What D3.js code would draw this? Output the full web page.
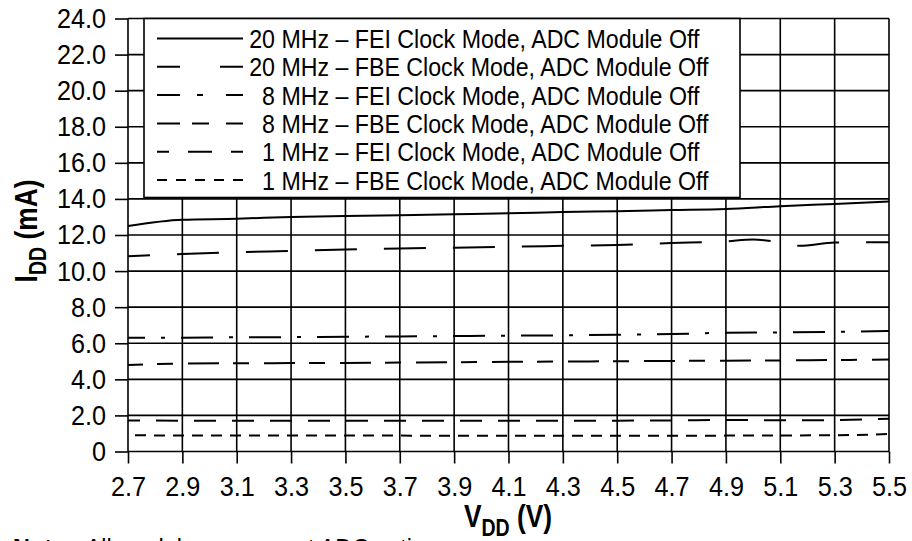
<!DOCTYPE html>
<meta charset="utf-8">
<style>
    body { margin: 0; background: #fff; }
    text { font-family: "Liberation Sans", Arial, sans-serif; fill: #000; }
</style>
<div id="my_dataviz"></div>
<script src="https://d3js.org/d3.v7.min.js"></script>
<script>

    // data
    var vdd = [2.7, 2.9, 3.1, 3.3, 3.5, 3.7, 3.9, 4.1, 4.3, 4.5, 4.7, 4.9, 5.1, 5.3, 5.5];
    var idd20Fei = [12.5, 12.85, 12.9, 13.0, 13.05, 13.1, 13.15, 13.2, 13.27, 13.32, 13.38, 13.44, 13.6, 13.72, 13.85];
    var vdd20Fbe = [2.7, 2.9, 3.1, 3.3, 3.5, 3.7, 3.9, 4.1, 4.3, 4.5, 4.7, 4.9, 5.0, 5.1, 5.17, 5.3, 5.5];
    var idd20Fbe = [10.82, 10.95, 11.05, 11.12, 11.2, 11.25, 11.3, 11.35, 11.4, 11.45, 11.55, 11.65, 11.75, 11.58, 11.4, 11.58, 11.6];
    var idd8Fei = [6.3, 6.31, 6.33, 6.34, 6.36, 6.38, 6.4, 6.42, 6.44, 6.47, 6.51, 6.58, 6.6, 6.63, 6.68];
    var idd8Fbe = [4.8, 4.87, 4.89, 4.9, 4.91, 4.93, 4.95, 4.97, 4.99, 5.0, 5.02, 5.03, 5.05, 5.07, 5.1];
    var idd1Fei = [1.72, 1.71, 1.7, 1.7, 1.7, 1.7, 1.7, 1.7, 1.7, 1.71, 1.72, 1.75, 1.73, 1.74, 1.82];
    var idd1Fbe = [0.9, 0.89, 0.89, 0.88, 0.88, 0.88, 0.87, 0.87, 0.87, 0.87, 0.87, 0.88, 0.89, 0.9, 0.97];

    var legendFreq = ["20", "20", "8", "8", "1", "1"];
    var legendText = ["FEI Clock Mode, ADC Module Off", "FBE Clock Mode, ADC Module Off",
        "FEI Clock Mode, ADC Module Off", "FBE Clock Mode, ADC Module Off",
        "FEI Clock Mode, ADC Module Off", "FBE Clock Mode, ADC Module Off"];
    var yTicks = [0, 2, 4, 6, 8, 10, 12, 14, 16, 18, 20, 22, 24];
    var xTicks = [2.7, 2.9, 3.1, 3.3, 3.5, 3.7, 3.9, 4.1, 4.3, 4.5, 4.7, 4.9, 5.1, 5.3, 5.5];

    // line styles: dash in the plot, dash in the legend sample, offset
    var styles = [
        { dash: null, legendDash: null, offset: 0 },
        { dash: "42,27", legendDash: "23,40,23", offset: 20 },
        { dash: "32,16,4,16", legendDash: "23,17,6,23,17", offset: 15 },
        { dash: "31,14,16,15", legendDash: "23,12,17,17,17", offset: 16 },
        { dash: "22,16", legendDash: "12,19,24,19,12", offset: 10 },
        { dash: "11,8", legendDash: "10,9", offset: 12 }
    ];

    var series = [
        { x: vdd, y: idd20Fei },
        { x: vdd20Fbe, y: idd20Fbe },
        { x: vdd, y: idd8Fei },
        { x: vdd, y: idd8Fbe },
        { x: vdd, y: idd1Fei },
        { x: vdd, y: idd1Fbe }
    ];

    // condensed look of the original typeface
    var sx = 0.9, legendSx = 0.875;

    var margin = { top: 18.5, right: 23, bottom: 89.5, left: 128 },
        width = 912 - margin.left - margin.right,
        height = 541 - margin.top - margin.bottom;

    var svgRoot = d3.select("#my_dataviz")
        .append("svg")
        .attr("width", 912)
        .attr("height", 541);

    var svg = svgRoot.append("g")
        .attr("transform", "translate(" + margin.left + "," + margin.top + ")");

    var x = d3.scaleLinear().domain([2.7, 5.5]).range([0, width]);
    var y = d3.scaleLinear().domain([0, 24]).range([height, 0]);

    // grid
    svg.append("g").selectAll("line.h")
        .data(yTicks).enter().append("line")
        .attr("x1", 0).attr("x2", width)
        .attr("y1", function (d) { return y(d); })
        .attr("y2", function (d) { return y(d); })
        .attr("stroke", "#000").attr("stroke-width", 1.6);
    svg.append("g").selectAll("line.v")
        .data(xTicks).enter().append("line")
        .attr("y1", 0).attr("y2", height)
        .attr("x1", function (d) { return x(d); })
        .attr("x2", function (d) { return x(d); })
        .attr("stroke", "#000").attr("stroke-width", 1.6);

    // axes
    var yAxis = svg.append("g")
        .call(d3.axisLeft(y).tickValues(yTicks).tickSize(13).tickPadding(9)
            .tickFormat(function (d) { return d === 0 ? "0" : d.toFixed(1); }));
    var xAxis = svg.append("g")
        .attr("transform", "translate(0," + height + ")")
        .call(d3.axisBottom(x).tickValues(xTicks).tickSize(12).tickPadding(13)
            .tickFormat(d3.format(".1f")));
    [yAxis, xAxis].forEach(function (a) {
        a.select(".domain").remove();
        a.selectAll(".tick line").attr("stroke", "#000").attr("stroke-width", 1.6);
        a.selectAll(".tick text")
            .attr("font-size", 28).attr("font-family", null).attr("fill", "#000")
            .attr("transform", "scale(" + sx + ",1)");
    });
    // undo the scale on the left labels' x offset
    yAxis.selectAll(".tick text").attr("x", -22 / sx);

    // series
    var line = d3.line()
        .x(function (d) { return x(d[0]); })
        .y(function (d) { return y(d[1]); })
        .curve(d3.curveMonotoneX);

    series.forEach(function (s, i) {
        svg.append("path")
            .datum(d3.zip(s.x, s.y))
            .attr("d", line)
            .attr("fill", "none")
            .attr("stroke", "#000")
            .attr("stroke-width", 2)
            .attr("stroke-dasharray", styles[i].dash)
            .attr("stroke-dashoffset", styles[i].offset);
    });

    // legend
    var legend = svg.append("g").attr("transform", "translate(16,0)");
    legend.append("rect")
        .attr("x", 0).attr("y", 0)
        .attr("width", 596).attr("height", 179)
        .attr("fill", "#fff").attr("stroke", "#000").attr("stroke-width", 1.6);

    var rows = legend.selectAll("g.row")
        .data(legendFreq).enter().append("g")
        .attr("transform", function (d, i) { return "translate(0," + (20 + i * 28.3) + ")"; });
    rows.append("line")
        .attr("x1", 13).attr("x2", 99).attr("y1", 0).attr("y2", 0)
        .attr("stroke", "#000").attr("stroke-width", 2)
        .attr("stroke-dasharray", function (d, i) { return styles[i].legendDash; });
    rows.append("text")
        .attr("transform", "translate(131,0) scale(" + legendSx + ",1)")
        .attr("dy", "0.36em")
        .attr("text-anchor", "end")
        .attr("font-size", 26.5)
        .text(function (d) { return d; });
    rows.append("text")
        .attr("transform", "translate(131,0) scale(" + legendSx + ",1)")
        .attr("dy", "0.36em")
        .attr("font-size", 26.5)
        .text(function (d, i) { return "\u00a0MHz \u2013 " + legendText[i]; });

    // x axis label
    var xl = svgRoot.append("text")
        .attr("transform", "translate(508,527) scale(0.85,1)")
        .attr("text-anchor", "middle")
        .attr("font-size", 31).attr("font-weight", "bold");
    xl.append("tspan").text("V");
    xl.append("tspan").attr("font-size", 23).attr("dy", 9).text("DD");
    xl.append("tspan").attr("dy", -9).text(" (V)");

    // y axis label
    var yl = svgRoot.append("text")
        .attr("transform", "translate(37,231) rotate(-90) scale(0.85,1)")
        .attr("text-anchor", "middle")
        .attr("font-size", 31).attr("font-weight", "bold");
    yl.append("tspan").text("I");
    yl.append("tspan").attr("font-size", 23).attr("dy", 9).text("DD");
    yl.append("tspan").attr("dy", -9).text(" (mA)");

    // note, cut off at the bottom edge as in the original
    var note = svgRoot.append("text")
        .attr("transform", "translate(13,557) scale(" + sx + ",1)")
        .attr("font-size", 26);
    note.append("tspan").attr("font-weight", "bold").text("Note:");
    note.append("tspan").text("\u00a0\u00a0All modules on except ADC active");

</script>
